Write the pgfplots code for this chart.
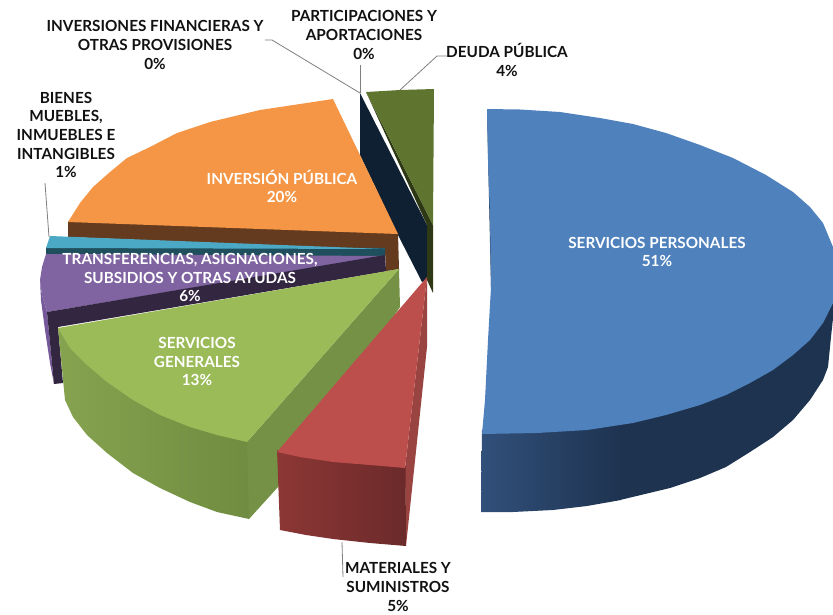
\documentclass[border=0pt]{standalone}
\usepackage{pgfplots}
\pgfplotsset{compat=1.18}
\usepackage{fontspec}
\setmainfont{Lato}[BoldFont={Lato Bold}]
\definecolor{bluetop}{HTML}{4F81BD}
\definecolor{bluesideL}{HTML}{31507A}
\definecolor{bluesideK}{HTML}{1E3350}
\definecolor{greentop}{HTML}{9BBB59}
\definecolor{greenwall}{HTML}{749146}
\definecolor{greensideL}{HTML}{86A350}
\definecolor{greensideR}{HTML}{6F8C40}
\definecolor{redtop}{HTML}{BC4F4C}
\definecolor{redwall}{HTML}{9A4441}
\definecolor{redsideL}{HTML}{8C3735}
\definecolor{redsideR}{HTML}{6B2A2A}
\definecolor{purtop}{HTML}{8064A2}
\definecolor{purdark}{HTML}{332640}
\definecolor{purside}{HTML}{76599A}
\definecolor{tealtop}{HTML}{4BA9C6}
\definecolor{tealdark}{HTML}{1F4E5C}
\definecolor{orangetop}{HTML}{F49645}
\definecolor{orangewall}{HTML}{643B1E}
\definecolor{navy}{HTML}{102033}
\definecolor{olivetop}{HTML}{5F752F}
\definecolor{olivewall}{HTML}{2E3815}
\definecolor{lead}{HTML}{7F7F7F}
\definecolor{lbl}{HTML}{111111}
\tikzset{
  lab/.style={font=\fontsize{15.3}{18.6}\selectfont\bfseries, align=center, inner sep=0pt, text=lbl},
  wlab/.style={lab, text=white},
  leader/.style={draw=lead, line width=0.8pt},
}
\begin{document}
\begin{tikzpicture}
\begin{axis}[
  scale only axis, width=833pt, height=614pt,
  xmin=0, xmax=833, ymin=0, ymax=614, y dir=reverse,
  hide axis, clip=true, clip mode=individual,
]
% leader lines
\addplot[leader, no marks, forget plot] coordinates {(265,40)(272,40)(360,93)};
\addplot[leader, no marks, forget plot] coordinates {(360,65)(360,93)};
\addplot[leader, no marks, forget plot] coordinates {(447,56)(437,56)(400,90)};
\addplot[leader, no marks, forget plot] coordinates {(45,183)(49,237)};
\addplot[leader, no marks, forget plot] coordinates {(342,542)(343,577)};
% navy slice (participaciones)
\addplot[fill=navy, draw=none, forget plot] coordinates {(360,93)(427,225)(427,280)(422,282)(398,235)(360,155)};
% deuda publica
\addplot[fill=olivewall, draw=none, forget plot] coordinates {(366,92)(427,225)(427,280)(433,293)(433,225)};
\addplot[fill=olivetop, draw=none, forget plot] coordinates {(366,92)(383,91)(400,90)(417,89.5)(434,89)(433,225)};
% inversion publica
\addplot[fill=orangewall, draw=none, forget plot] coordinates {(68,221)(398,233)(399,269)(386,271)(385,250)(68,237)};
\addplot[fill=orangetop, draw=none, forget plot] coordinates {(68,222)(80,203)(93,187)(110,172)(127,158)(150,147)(177,133)(210,122)(260,110)(300,104)(333,99)(398,234)};
% bienes muebles
\addplot[fill=tealdark, draw=none, forget plot] coordinates {(46,247)(385,248)(385,257)(46,254)};
\addplot[fill=tealtop, draw=none, forget plot] coordinates {(50,236)(46,248)(385,249)};
% transferencias
\addplot[fill=purside, draw=none, forget plot] coordinates {(40,280)(42,295)(47,312)(54,384)(50,363)(45,330)(41,300)};
\addplot[fill=purtop, draw=none, forget plot] coordinates {(46,254)(42,267)(40,280)(42,295)(47,312)(385,256)};
\addplot[fill=purdark, draw=none, forget plot] coordinates {(47,312)(385,255)(386,271)(400,269)(58,327)(63,383)(54,384)};
% servicios generales
\addplot[left color=greensideL, right color=greensideR, draw=none, forget plot] coordinates {(58,328)(65,400)(73,417)(87,435)(107,453)(133,473)(160,488)(190,502)(217,512)(249,519)(250,440)(217,433)(190,425)(160,413)(133,398)(107,380)(87,363)(70,346)};
\addplot[fill=greenwall, draw=none, forget plot] coordinates {(399,269)(400,307)(278,487)(249,519)(247,442)};
\addplot[fill=greentop, draw=none, forget plot] coordinates {(399,269)(58,328)(70,348)(87,365)(107,382)(133,400)(160,415)(190,427)(217,435)(247,442)};
% materiales
\addplot[fill=redwall, draw=none, forget plot] coordinates {(427,277)(427,347)(406,546)(405,468)};
\addplot[left color=redsideL, right color=redsideR, draw=none, forget plot] coordinates {(277,450)(280,530)(306,535)(333,539)(370,543)(406,546)(405.5,466)(370,463)(333,460)(300,455)};
\addplot[fill=redtop, draw=none, forget plot] coordinates {(427,277)(277,452)(300,457)(333,462)(370,465)(405,468)};
% servicios personales
\addplot[fill=bluesideK, draw=none, forget plot] coordinates {(487,109)(491,150)(493,250)(491,287)};
\addplot[fill=bluesideK, draw=none, forget plot] coordinates {(620,420)(620,500)(645,494)(670,488)(700,478)(726,467)(750,452)(773,437)(793,420)(810,400)(823,380)(828,367)(831,337)(835,300)(823,318)(810,335)(793,350)(773,365)(750,378)(726,390)(700,400)(666,410)(633,418)};
\addplot[left color=bluesideL, right color=bluesideK, draw=none, forget plot] coordinates {(482,430)(481,512)(513,512)(553,510)(587,506)(621,500)(621,420)(587,425)(537,428)};
\addplot[fill=bluetop, draw=none, forget plot] coordinates {(487,109)(520,109.5)(560,112)(600,118)(633,124)(666,133)(700,145)(733,158)(766,175)(793,192)(810,207)(823,223)(833,247)(833,303)(823,323)(810,340)(793,355)(773,370)(750,383)(726,395)(700,405)(666,415)(633,423)(587,430)(537,433)(482,434)(485,400)(488,340)(491,287)(490,220)(488,160)};
% labels
\node[lab] at (axis cs:155,45) {INVERSIONES FINANCIERAS Y\\OTRAS PROVISIONES\\0\%};
\node[lab] at (axis cs:364,35) {PARTICIPACIONES Y\\APORTACIONES\\0\%};
\node[lab] at (axis cs:507,60) {DEUDA PÚBLICA\\4\%};
\node[lab] at (axis cs:66,135) {BIENES\\MUEBLES,\\INMUEBLES E\\INTANGIBLES\\1\%};
\node[wlab] at (axis cs:282,186.5) {INVERSIÓN PÚBLICA\\20\%};
\node[wlab] at (axis cs:657,252) {SERVICIOS PERSONALES\\51\%};
\node[wlab] at (axis cs:190,277.5) {TRANSFERENCIAS, ASIGNACIONES,\\SUBSIDIOS Y OTRAS AYUDAS\\6\%};
\node[wlab] at (axis cs:197,361.5) {SERVICIOS\\GENERALES\\13\%};
\node[lab] at (axis cs:398,587) {MATERIALES Y\\SUMINISTROS\\5\%};
\end{axis}
\pgfresetboundingbox
\path[use as bounding box] (0,0) rectangle (833pt,614pt);
\end{tikzpicture}
\end{document}
